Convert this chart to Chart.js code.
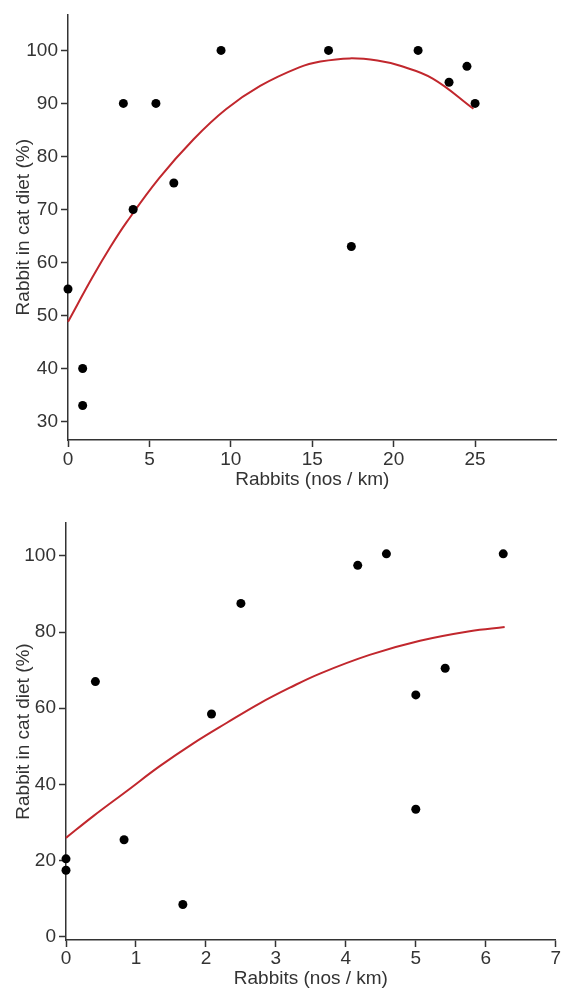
<!DOCTYPE html>
<html>
<head>
<meta charset="utf-8">
<title>Rabbit in cat diet</title>
<script src="https://cdn.jsdelivr.net/npm/chart.js@4.4.1/dist/chart.umd.min.js"></script>
<style>
  html, body { margin: 0; padding: 0; background: #fff; }
  .box { position: absolute; left: 0; width: 561px; }
  #topBox { top: 0; height: 500px; }
  #bottomBox { top: 500px; height: 493px; }
</style>
</head>
<body>
<div class="box" id="topBox"><canvas id="topChart"></canvas></div>
<div class="box" id="bottomBox"><canvas id="bottomChart"></canvas></div>
<script>
"use strict";
// top panel: observations
const rabbitsTop = [0, 0.9, 0.9, 3.4, 4, 5.4, 6.5, 9.4, 16, 17.4, 21.5, 23.4, 24.5, 25];
const dietTop = [55, 40, 33, 90, 70, 90, 75, 100, 100, 63, 100, 94, 97, 90];
// top panel: fitted curve
const fitXTop = [0, 1.5, 2.6, 3.6, 5.6, 7.7, 9.7, 11.8, 14.2, 15.5, 17.3, 19, 20.4, 22.4, 24.9];
const fitYTop = [48.8, 57.2, 62.9, 67.6, 75.9, 83.2, 88.9, 93.3, 96.8, 97.9, 98.5, 98.1, 97.1, 94.7, 89];
const xTicksTop = [0, 5, 10, 15, 20, 25];
const yTicksTop = [30, 40, 50, 60, 70, 80, 90, 100];

// bottom panel: observations
const rabbitsBottom = [0, 0, 0.42, 0.83, 1.67, 2.08, 2.5, 4.17, 4.58, 5, 5, 5.42, 6.25];
const dietBottom = [20.5, 17.5, 67, 25.5, 8.5, 58.5, 87.5, 97.5, 100.5, 63.5, 33.5, 70.5, 100.5];
// bottom panel: fitted curve
const fitXBottom = [0, 0.39, 0.87, 1.34, 1.82, 2.3, 2.77, 3.2, 3.63, 4.34, 5.06, 5.77, 6.27];
const fitYBottom = [26, 31.7, 38.3, 44.8, 50.8, 56.2, 61.3, 65.4, 69.1, 74, 77.7, 80.2, 81.3];
const xTicksBottom = [0, 1, 2, 3, 4, 5, 6, 7];
const yTicksBottom = [0, 20, 40, 60, 80, 100];

const X_TITLE = "Rabbits (nos / km)";
const Y_TITLE = "Rabbit in cat diet (%)";
const FONT = "'Liberation Sans', Arial, sans-serif";
const INK = "#333";
const CURVE = "#c1272d";

function toPoints(xs, ys) {
    return xs.map((x, i) => ({ x: x, y: ys[i] }));
}

function axis(opts) {
    return {
        type: "linear",
        min: opts.min,
        max: opts.max,
        afterBuildTicks: (scale) => { scale.ticks = opts.ticks.map(v => ({ value: v })); },
        afterFit: (scale) => {
            if (opts.width !== undefined) scale.width = opts.width;
            if (opts.height !== undefined) scale.height = opts.height;
        },
        grid: { display: true, drawOnChartArea: false, drawTicks: true, tickLength: 7, tickWidth: 1.5, color: INK },
        border: { display: true, color: INK, width: 1.5 },
        ticks: { color: INK, padding: opts.tickPad, maxRotation: 0, autoSkip: false, font: { family: FONT, size: 19, lineHeight: 1.2 } },
        title: {
            display: true,
            text: opts.title,
            color: INK,
            font: { family: FONT, size: 19, lineHeight: 1.2 },
            padding: opts.titlePad,
        },
    };
}

function renderPanel(canvas, cfg) {
    const ctx = canvas.getContext("2d");
    if (!ctx)
        return null;
    return new Chart(ctx, {
        type: "scatter",
        data: {
            datasets: [
                {
                    label: "observed",
                    data: toPoints(cfg.xs, cfg.ys),
                    backgroundColor: "#000",
                    borderWidth: 0,
                    pointRadius: 4.5,
                    pointHoverRadius: 4.5,
                    clip: false,
                },
                {
                    type: "line",
                    label: "fit",
                    data: toPoints(cfg.fitX, cfg.fitY),
                    borderColor: CURVE,
                    borderWidth: 2,
                    pointRadius: 0,
                    fill: false,
                    tension: 0.4,
                    clip: false,
                },
            ],
        },
        options: {
            responsive: true,
            maintainAspectRatio: false,
            animation: false,
            layout: { padding: cfg.padding },
            plugins: { legend: { display: false }, tooltip: { enabled: false } },
            scales: {
                x: axis({ min: cfg.xMin, max: cfg.xMax, ticks: cfg.xTicks, height: cfg.xHeight, tickPad: cfg.xTickPad, title: X_TITLE, titlePad: { top: 0, bottom: cfg.xTitlePad } }),
                y: axis({ min: cfg.yMin, max: cfg.yMax, ticks: cfg.yTicks, width: cfg.yWidth, tickPad: 3, title: Y_TITLE, titlePad: { top: cfg.yTitlePad, bottom: 0 } }),
            },
        },
    });
}

renderPanel(document.getElementById("topChart"), {
    xs: rabbitsTop, ys: dietTop, fitX: fitXTop, fitY: fitYTop,
    xMin: 0, xMax: 30, xTicks: xTicksTop,
    yMin: 26.5, yMax: 106.8, yTicks: yTicksTop,
    padding: { top: 8, right: 4, left: 0, bottom: 0 },
    xHeight: 60, yWidth: 68, xTickPad: 1, xTitlePad: 8.6, yTitlePad: 12.6,
});

renderPanel(document.getElementById("bottomChart"), {
    xs: rabbitsBottom, ys: dietBottom, fitX: fitXBottom, fitY: fitYBottom,
    xMin: 0, xMax: 7, xTicks: xTicksBottom,
    yMin: -0.8, yMax: 108.6, yTicks: yTicksBottom,
    padding: { top: 23, right: 4, left: 0, bottom: 0 },
    xHeight: 53, yWidth: 66, xTickPad: 0, xTitlePad: 2.6, yTitlePad: 12.1,
});
</script>
</body>
</html>
